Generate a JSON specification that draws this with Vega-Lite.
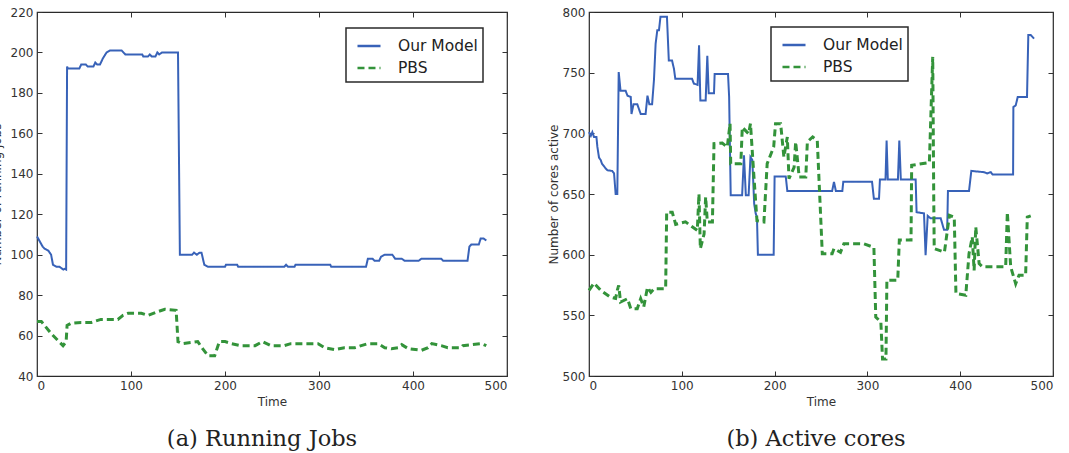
{
  "$schema": "https://vega.github.io/schema/vega-lite/v6.json",
  "padding": {"left": -11, "top": 5, "right": 5, "bottom": 5},
  "background": "white",
  "bounds": "flush",
  "spacing": 82,
  "config": {
    "font": "DejaVu Sans",
    "view": {"stroke": "#2a2a2a", "strokeWidth": 1.2},
    "axis": {
      "grid": false,
      "domain": false,
      "tickSize": -5,
      "tickColor": "#333",
      "tickWidth": 1,
      "labelPadding": 9,
      "labelFont": "DejaVu Sans",
      "labelFontSize": 12,
      "labelColor": "#333",
      "titleFont": "DejaVu Sans",
      "titleFontSize": 12,
      "titleFontWeight": "normal",
      "titleColor": "#333"
    },
    "legend": {
      "orient": "none",
      "title": null,
      "fillColor": "white",
      "strokeColor": "#2a2a2a",
      "strokeWidth": 1.5,
      "padding": 5,
      "symbolOffset": 5,
      "cornerRadius": 0,
      "symbolType": "stroke",
      "symbolSize": 530,
      "symbolStrokeWidth": 2.5,
      "labelFont": "DejaVu Sans",
      "labelFontSize": 15.5,
      "labelColor": "#222",
      "labelOffset": 16,
      "rowPadding": -1
    },
    "title": {
      "orient": "bottom",
      "anchor": "middle",
      "font": "DejaVu Serif",
      "fontSize": 22.5,
      "fontWeight": "normal",
      "color": "#222"
    }
  },
  "datasets": {
    "jobs": [
      {"t": 0, "v": 109, "series": "Our Model"},
      {"t": 6, "v": 104, "series": "Our Model"},
      {"t": 8, "v": 103, "series": "Our Model"},
      {"t": 12, "v": 102, "series": "Our Model"},
      {"t": 15, "v": 100, "series": "Our Model"},
      {"t": 17, "v": 95, "series": "Our Model"},
      {"t": 21, "v": 94, "series": "Our Model"},
      {"t": 24, "v": 94, "series": "Our Model"},
      {"t": 28, "v": 92.6, "series": "Our Model"},
      {"t": 29.5, "v": 93, "series": "Our Model"},
      {"t": 31, "v": 92.6, "series": "Our Model"},
      {"t": 32, "v": 193, "series": "Our Model"},
      {"t": 33, "v": 192, "series": "Our Model"},
      {"t": 45, "v": 192, "series": "Our Model"},
      {"t": 47, "v": 194, "series": "Our Model"},
      {"t": 52, "v": 194, "series": "Our Model"},
      {"t": 54, "v": 193, "series": "Our Model"},
      {"t": 60, "v": 193, "series": "Our Model"},
      {"t": 62, "v": 195, "series": "Our Model"},
      {"t": 64, "v": 194, "series": "Our Model"},
      {"t": 67, "v": 194, "series": "Our Model"},
      {"t": 70, "v": 197, "series": "Our Model"},
      {"t": 74, "v": 200, "series": "Our Model"},
      {"t": 78, "v": 201, "series": "Our Model"},
      {"t": 90, "v": 201, "series": "Our Model"},
      {"t": 94, "v": 199, "series": "Our Model"},
      {"t": 112, "v": 199, "series": "Our Model"},
      {"t": 113, "v": 198, "series": "Our Model"},
      {"t": 118, "v": 198, "series": "Our Model"},
      {"t": 120, "v": 199, "series": "Our Model"},
      {"t": 122, "v": 198, "series": "Our Model"},
      {"t": 126, "v": 198, "series": "Our Model"},
      {"t": 128, "v": 200, "series": "Our Model"},
      {"t": 130, "v": 199, "series": "Our Model"},
      {"t": 133, "v": 200, "series": "Our Model"},
      {"t": 150, "v": 200, "series": "Our Model"},
      {"t": 152, "v": 100, "series": "Our Model"},
      {"t": 165, "v": 100, "series": "Our Model"},
      {"t": 167, "v": 101, "series": "Our Model"},
      {"t": 170, "v": 100, "series": "Our Model"},
      {"t": 173, "v": 101, "series": "Our Model"},
      {"t": 175, "v": 101, "series": "Our Model"},
      {"t": 178, "v": 95, "series": "Our Model"},
      {"t": 182, "v": 94, "series": "Our Model"},
      {"t": 200, "v": 94, "series": "Our Model"},
      {"t": 201, "v": 95, "series": "Our Model"},
      {"t": 213, "v": 95, "series": "Our Model"},
      {"t": 214, "v": 94, "series": "Our Model"},
      {"t": 263, "v": 94, "series": "Our Model"},
      {"t": 265, "v": 95, "series": "Our Model"},
      {"t": 267, "v": 94, "series": "Our Model"},
      {"t": 274, "v": 94, "series": "Our Model"},
      {"t": 275, "v": 95, "series": "Our Model"},
      {"t": 312, "v": 95, "series": "Our Model"},
      {"t": 313, "v": 94, "series": "Our Model"},
      {"t": 350, "v": 94, "series": "Our Model"},
      {"t": 352, "v": 98, "series": "Our Model"},
      {"t": 357, "v": 98, "series": "Our Model"},
      {"t": 359, "v": 97, "series": "Our Model"},
      {"t": 364, "v": 97, "series": "Our Model"},
      {"t": 366, "v": 99, "series": "Our Model"},
      {"t": 370, "v": 100, "series": "Our Model"},
      {"t": 378, "v": 100, "series": "Our Model"},
      {"t": 381, "v": 98, "series": "Our Model"},
      {"t": 388, "v": 98, "series": "Our Model"},
      {"t": 391, "v": 97, "series": "Our Model"},
      {"t": 406, "v": 97, "series": "Our Model"},
      {"t": 409, "v": 98, "series": "Our Model"},
      {"t": 430, "v": 98, "series": "Our Model"},
      {"t": 432, "v": 97, "series": "Our Model"},
      {"t": 458, "v": 97, "series": "Our Model"},
      {"t": 460, "v": 104, "series": "Our Model"},
      {"t": 462, "v": 105, "series": "Our Model"},
      {"t": 470, "v": 105, "series": "Our Model"},
      {"t": 472, "v": 108, "series": "Our Model"},
      {"t": 475, "v": 108, "series": "Our Model"},
      {"t": 478, "v": 107, "series": "Our Model"},
      {"t": 0, "v": 67, "series": "PBS"},
      {"t": 4.6, "v": 67, "series": "PBS"},
      {"t": 15, "v": 61, "series": "PBS"},
      {"t": 27.7, "v": 55, "series": "PBS"},
      {"t": 31, "v": 57, "series": "PBS"},
      {"t": 32, "v": 65, "series": "PBS"},
      {"t": 36, "v": 66, "series": "PBS"},
      {"t": 47, "v": 66.5, "series": "PBS"},
      {"t": 58, "v": 66.5, "series": "PBS"},
      {"t": 68, "v": 68, "series": "PBS"},
      {"t": 86, "v": 68, "series": "PBS"},
      {"t": 91.5, "v": 70, "series": "PBS"},
      {"t": 97, "v": 71, "series": "PBS"},
      {"t": 111, "v": 71, "series": "PBS"},
      {"t": 118, "v": 70, "series": "PBS"},
      {"t": 127, "v": 71.6, "series": "PBS"},
      {"t": 136, "v": 73, "series": "PBS"},
      {"t": 148, "v": 72.5, "series": "PBS"},
      {"t": 150, "v": 57, "series": "PBS"},
      {"t": 155, "v": 56, "series": "PBS"},
      {"t": 171, "v": 57, "series": "PBS"},
      {"t": 177, "v": 53, "series": "PBS"},
      {"t": 182, "v": 50, "series": "PBS"},
      {"t": 189, "v": 50, "series": "PBS"},
      {"t": 194, "v": 57, "series": "PBS"},
      {"t": 200, "v": 57, "series": "PBS"},
      {"t": 207, "v": 56, "series": "PBS"},
      {"t": 217, "v": 55, "series": "PBS"},
      {"t": 232, "v": 55, "series": "PBS"},
      {"t": 240, "v": 57, "series": "PBS"},
      {"t": 249, "v": 55, "series": "PBS"},
      {"t": 263, "v": 55, "series": "PBS"},
      {"t": 270, "v": 56, "series": "PBS"},
      {"t": 299, "v": 56, "series": "PBS"},
      {"t": 306, "v": 54, "series": "PBS"},
      {"t": 317, "v": 53, "series": "PBS"},
      {"t": 327, "v": 54, "series": "PBS"},
      {"t": 338, "v": 54, "series": "PBS"},
      {"t": 352, "v": 56, "series": "PBS"},
      {"t": 363, "v": 56, "series": "PBS"},
      {"t": 370, "v": 54, "series": "PBS"},
      {"t": 377, "v": 53.5, "series": "PBS"},
      {"t": 384, "v": 54, "series": "PBS"},
      {"t": 388, "v": 55.5, "series": "PBS"},
      {"t": 395, "v": 53.5, "series": "PBS"},
      {"t": 409, "v": 52.7, "series": "PBS"},
      {"t": 416, "v": 54, "series": "PBS"},
      {"t": 420, "v": 56, "series": "PBS"},
      {"t": 430, "v": 55, "series": "PBS"},
      {"t": 437, "v": 54, "series": "PBS"},
      {"t": 451, "v": 54, "series": "PBS"},
      {"t": 453, "v": 55, "series": "PBS"},
      {"t": 473, "v": 56, "series": "PBS"},
      {"t": 478, "v": 55, "series": "PBS"}
    ],
    "cores": [
      {"t": 0, "v": 701, "series": "Our Model"},
      {"t": 2, "v": 698, "series": "Our Model"},
      {"t": 3.6, "v": 701, "series": "Our Model"},
      {"t": 5.4, "v": 697, "series": "Our Model"},
      {"t": 8, "v": 697, "series": "Our Model"},
      {"t": 9, "v": 689, "series": "Our Model"},
      {"t": 10.8, "v": 680, "series": "Our Model"},
      {"t": 12.6, "v": 678, "series": "Our Model"},
      {"t": 14, "v": 675, "series": "Our Model"},
      {"t": 18, "v": 671, "series": "Our Model"},
      {"t": 20, "v": 669.5, "series": "Our Model"},
      {"t": 25, "v": 669, "series": "Our Model"},
      {"t": 27, "v": 667, "series": "Our Model"},
      {"t": 28.7, "v": 650, "series": "Our Model"},
      {"t": 30.5, "v": 650, "series": "Our Model"},
      {"t": 32, "v": 750.5, "series": "Our Model"},
      {"t": 34, "v": 735, "series": "Our Model"},
      {"t": 39.5, "v": 735, "series": "Our Model"},
      {"t": 41.5, "v": 731, "series": "Our Model"},
      {"t": 45, "v": 730, "series": "Our Model"},
      {"t": 45.8, "v": 716, "series": "Our Model"},
      {"t": 48, "v": 724, "series": "Our Model"},
      {"t": 52, "v": 724, "series": "Our Model"},
      {"t": 55.7, "v": 716, "series": "Our Model"},
      {"t": 61, "v": 716, "series": "Our Model"},
      {"t": 63, "v": 731, "series": "Our Model"},
      {"t": 65, "v": 724, "series": "Our Model"},
      {"t": 68, "v": 724, "series": "Our Model"},
      {"t": 70, "v": 744, "series": "Our Model"},
      {"t": 71.8, "v": 774, "series": "Our Model"},
      {"t": 73.6, "v": 785, "series": "Our Model"},
      {"t": 75.4, "v": 785, "series": "Our Model"},
      {"t": 77, "v": 796, "series": "Our Model"},
      {"t": 84, "v": 796, "series": "Our Model"},
      {"t": 86, "v": 760, "series": "Our Model"},
      {"t": 89.5, "v": 760, "series": "Our Model"},
      {"t": 91.6, "v": 753, "series": "Our Model"},
      {"t": 93, "v": 745, "series": "Our Model"},
      {"t": 111, "v": 745, "series": "Our Model"},
      {"t": 113, "v": 741, "series": "Our Model"},
      {"t": 117, "v": 740, "series": "Our Model"},
      {"t": 118.6, "v": 772.5, "series": "Our Model"},
      {"t": 120, "v": 727, "series": "Our Model"},
      {"t": 125.7, "v": 727, "series": "Our Model"},
      {"t": 127.5, "v": 764, "series": "Our Model"},
      {"t": 129, "v": 733, "series": "Our Model"},
      {"t": 134.7, "v": 733, "series": "Our Model"},
      {"t": 135.4, "v": 749, "series": "Our Model"},
      {"t": 149.8, "v": 749, "series": "Our Model"},
      {"t": 151, "v": 730, "series": "Our Model"},
      {"t": 152.7, "v": 649, "series": "Our Model"},
      {"t": 165, "v": 649, "series": "Our Model"},
      {"t": 167, "v": 682, "series": "Our Model"},
      {"t": 169, "v": 649, "series": "Our Model"},
      {"t": 172, "v": 649, "series": "Our Model"},
      {"t": 174, "v": 680.5, "series": "Our Model"},
      {"t": 176, "v": 678, "series": "Our Model"},
      {"t": 178, "v": 642, "series": "Our Model"},
      {"t": 179.6, "v": 634, "series": "Our Model"},
      {"t": 181, "v": 631, "series": "Our Model"},
      {"t": 182, "v": 600, "series": "Our Model"},
      {"t": 199, "v": 600, "series": "Our Model"},
      {"t": 200, "v": 664.5, "series": "Our Model"},
      {"t": 212, "v": 664.5, "series": "Our Model"},
      {"t": 213.7, "v": 652.5, "series": "Our Model"},
      {"t": 262, "v": 652.5, "series": "Our Model"},
      {"t": 264, "v": 660, "series": "Our Model"},
      {"t": 266, "v": 652.5, "series": "Our Model"},
      {"t": 273, "v": 652.5, "series": "Our Model"},
      {"t": 274, "v": 660, "series": "Our Model"},
      {"t": 305, "v": 660, "series": "Our Model"},
      {"t": 307, "v": 646, "series": "Our Model"},
      {"t": 312.5, "v": 646, "series": "Our Model"},
      {"t": 313.5, "v": 662, "series": "Our Model"},
      {"t": 319.5, "v": 662, "series": "Our Model"},
      {"t": 320.7, "v": 694, "series": "Our Model"},
      {"t": 322, "v": 662, "series": "Our Model"},
      {"t": 332.9, "v": 662, "series": "Our Model"},
      {"t": 334.4, "v": 694, "series": "Our Model"},
      {"t": 336, "v": 662, "series": "Our Model"},
      {"t": 352, "v": 662, "series": "Our Model"},
      {"t": 353, "v": 635, "series": "Our Model"},
      {"t": 361, "v": 634, "series": "Our Model"},
      {"t": 362.7, "v": 599.5, "series": "Our Model"},
      {"t": 365, "v": 632, "series": "Our Model"},
      {"t": 368, "v": 630, "series": "Our Model"},
      {"t": 379, "v": 630, "series": "Our Model"},
      {"t": 382.5, "v": 620.6, "series": "Our Model"},
      {"t": 386, "v": 620.6, "series": "Our Model"},
      {"t": 386.8, "v": 652.5, "series": "Our Model"},
      {"t": 409.5, "v": 652.5, "series": "Our Model"},
      {"t": 412, "v": 669, "series": "Our Model"},
      {"t": 425.6, "v": 668, "series": "Our Model"},
      {"t": 429, "v": 667, "series": "Our Model"},
      {"t": 433, "v": 668, "series": "Our Model"},
      {"t": 435, "v": 666, "series": "Our Model"},
      {"t": 457, "v": 666, "series": "Our Model"},
      {"t": 457.3, "v": 721.7, "series": "Our Model"},
      {"t": 459.8, "v": 723, "series": "Our Model"},
      {"t": 462, "v": 730, "series": "Our Model"},
      {"t": 472, "v": 730, "series": "Our Model"},
      {"t": 473.4, "v": 781, "series": "Our Model"},
      {"t": 476, "v": 781, "series": "Our Model"},
      {"t": 479.6, "v": 778, "series": "Our Model"},
      {"t": 0, "v": 570.6, "series": "PBS"},
      {"t": 5.4, "v": 576.6, "series": "PBS"},
      {"t": 12.6, "v": 570.6, "series": "PBS"},
      {"t": 23, "v": 565, "series": "PBS"},
      {"t": 28.7, "v": 564, "series": "PBS"},
      {"t": 30.5, "v": 570.6, "series": "PBS"},
      {"t": 32, "v": 574.7, "series": "PBS"},
      {"t": 34, "v": 561, "series": "PBS"},
      {"t": 41.5, "v": 563.7, "series": "PBS"},
      {"t": 45, "v": 555.5, "series": "PBS"},
      {"t": 52, "v": 555.5, "series": "PBS"},
      {"t": 55.7, "v": 563.7, "series": "PBS"},
      {"t": 59, "v": 557, "series": "PBS"},
      {"t": 63, "v": 573, "series": "PBS"},
      {"t": 66.7, "v": 569, "series": "PBS"},
      {"t": 70.4, "v": 572, "series": "PBS"},
      {"t": 82.6, "v": 572, "series": "PBS"},
      {"t": 83.7, "v": 635, "series": "PBS"},
      {"t": 89.7, "v": 635, "series": "PBS"},
      {"t": 93.4, "v": 625, "series": "PBS"},
      {"t": 104, "v": 627, "series": "PBS"},
      {"t": 116.7, "v": 620, "series": "PBS"},
      {"t": 118.5, "v": 650, "series": "PBS"},
      {"t": 120, "v": 605, "series": "PBS"},
      {"t": 124, "v": 617, "series": "PBS"},
      {"t": 125.7, "v": 647.5, "series": "PBS"},
      {"t": 127.5, "v": 627, "series": "PBS"},
      {"t": 133, "v": 627, "series": "PBS"},
      {"t": 134.7, "v": 691.5, "series": "PBS"},
      {"t": 143.6, "v": 692, "series": "PBS"},
      {"t": 149, "v": 688.7, "series": "PBS"},
      {"t": 152, "v": 708, "series": "PBS"},
      {"t": 152.7, "v": 675, "series": "PBS"},
      {"t": 163.6, "v": 675, "series": "PBS"},
      {"t": 165.2, "v": 705, "series": "PBS"},
      {"t": 172, "v": 699.7, "series": "PBS"},
      {"t": 174, "v": 708, "series": "PBS"},
      {"t": 177.5, "v": 667, "series": "PBS"},
      {"t": 181, "v": 628, "series": "PBS"},
      {"t": 188.5, "v": 627, "series": "PBS"},
      {"t": 192, "v": 675, "series": "PBS"},
      {"t": 199, "v": 688.7, "series": "PBS"},
      {"t": 201, "v": 708, "series": "PBS"},
      {"t": 206.5, "v": 708, "series": "PBS"},
      {"t": 210, "v": 680.5, "series": "PBS"},
      {"t": 213.7, "v": 697, "series": "PBS"},
      {"t": 215.5, "v": 662.6, "series": "PBS"},
      {"t": 221, "v": 672, "series": "PBS"},
      {"t": 222.7, "v": 693, "series": "PBS"},
      {"t": 226.5, "v": 664, "series": "PBS"},
      {"t": 233.6, "v": 664, "series": "PBS"},
      {"t": 235.3, "v": 693, "series": "PBS"},
      {"t": 241, "v": 697, "series": "PBS"},
      {"t": 246, "v": 694, "series": "PBS"},
      {"t": 251.4, "v": 600.8, "series": "PBS"},
      {"t": 262, "v": 600.8, "series": "PBS"},
      {"t": 264, "v": 605, "series": "PBS"},
      {"t": 271, "v": 602, "series": "PBS"},
      {"t": 274.7, "v": 609, "series": "PBS"},
      {"t": 296, "v": 609, "series": "PBS"},
      {"t": 307, "v": 606, "series": "PBS"},
      {"t": 309, "v": 548.6, "series": "PBS"},
      {"t": 314.5, "v": 544.5, "series": "PBS"},
      {"t": 316.3, "v": 514, "series": "PBS"},
      {"t": 320, "v": 514, "series": "PBS"},
      {"t": 321, "v": 579, "series": "PBS"},
      {"t": 332.7, "v": 579, "series": "PBS"},
      {"t": 334.4, "v": 612, "series": "PBS"},
      {"t": 347, "v": 612, "series": "PBS"},
      {"t": 347.7, "v": 673.6, "series": "PBS"},
      {"t": 366.8, "v": 676, "series": "PBS"},
      {"t": 370.4, "v": 763, "series": "PBS"},
      {"t": 371.5, "v": 645, "series": "PBS"},
      {"t": 372, "v": 605, "series": "PBS"},
      {"t": 383, "v": 602, "series": "PBS"},
      {"t": 388.4, "v": 632.4, "series": "PBS"},
      {"t": 393.6, "v": 631, "series": "PBS"},
      {"t": 395.4, "v": 568, "series": "PBS"},
      {"t": 406, "v": 566.5, "series": "PBS"},
      {"t": 409.5, "v": 600.8, "series": "PBS"},
      {"t": 413, "v": 614.6, "series": "PBS"},
      {"t": 415, "v": 587, "series": "PBS"},
      {"t": 416.8, "v": 622.8, "series": "PBS"},
      {"t": 420.4, "v": 592.6, "series": "PBS"},
      {"t": 424, "v": 590, "series": "PBS"},
      {"t": 449, "v": 590, "series": "PBS"},
      {"t": 450.8, "v": 635, "series": "PBS"},
      {"t": 454.4, "v": 590, "series": "PBS"},
      {"t": 459.8, "v": 576, "series": "PBS"},
      {"t": 463.4, "v": 583, "series": "PBS"},
      {"t": 470.5, "v": 583, "series": "PBS"},
      {"t": 472.3, "v": 631, "series": "PBS"},
      {"t": 476, "v": 632, "series": "PBS"}
    ]
  },
  "resolve": {
    "scale": {"color": "independent", "strokeDash": "independent"},
    "legend": {"color": "independent", "strokeDash": "independent"}
  },
  "hconcat": [
    {
      "width": 470,
      "height": 364,
      "title": {"text": "(a) Running Jobs", "offset": 21, "dx": -10},
      "data": {"name": "jobs"},
      "resolve": {"axis": {"x": "independent", "y": "independent"}},
      "encoding": {
        "color": {"field": "series", "type": "nominal", "scale": {"domain": ["Our Model", "PBS"], "range": ["#3862b8", "#33933a"]}, "legend": {"legendX": 309, "legendY": 16}},
        "strokeDash": {"field": "series", "type": "nominal", "scale": {"domain": ["Our Model", "PBS"], "range": [[1, 0], [7, 4]]}, "legend": {"legendX": 309, "legendY": 16}}
      },
      "layer": [
        {
          "transform": [{"filter": "datum.series === 'Our Model'"}],
          "mark": {"type": "line", "strokeWidth": 2},
          "encoding": {
            "x": {"field": "t", "type": "quantitative", "scale": {"domain": [0, 500], "nice": false}, "axis": {"orient": "bottom", "title": "Time", "values": [0, 100, 200, 300, 400, 500], "titlePadding": 5}},
            "y": {"field": "v", "type": "quantitative", "scale": {"domain": [40, 220], "nice": false, "zero": false}, "axis": {"orient": "left", "title": "Number of running jobs", "values": [40, 60, 80, 100, 120, 140, 160, 180, 200, 220], "titlePadding": 7}}
          }
        },
        {
          "transform": [{"filter": "datum.series === 'PBS'"}],
          "mark": {"type": "line", "strokeWidth": 3},
          "encoding": {
            "x": {"field": "t", "type": "quantitative", "scale": {"domain": [0, 500], "nice": false}, "axis": {"orient": "top", "title": null, "labels": false, "values": [0, 100, 200, 300, 400, 500]}},
            "y": {"field": "v", "type": "quantitative", "scale": {"domain": [40, 220], "nice": false, "zero": false}, "axis": {"orient": "right", "title": null, "labels": false, "values": [40, 60, 80, 100, 120, 140, 160, 180, 200, 220]}}
          }
        }
      ]
    },
    {
      "width": 464,
      "height": 364,
      "title": {"text": "(b) Active cores", "offset": 21, "dx": -5},
      "data": {"name": "cores"},
      "resolve": {"axis": {"x": "independent", "y": "independent"}},
      "encoding": {
        "color": {"field": "series", "type": "nominal", "scale": {"domain": ["Our Model", "PBS"], "range": ["#3862b8", "#33933a"]}, "legend": {"legendX": 182, "legendY": 15}},
        "strokeDash": {"field": "series", "type": "nominal", "scale": {"domain": ["Our Model", "PBS"], "range": [[1, 0], [7, 4]]}, "legend": {"legendX": 182, "legendY": 15}}
      },
      "layer": [
        {
          "transform": [{"filter": "datum.series === 'Our Model'"}],
          "mark": {"type": "line", "strokeWidth": 2},
          "encoding": {
            "x": {"field": "t", "type": "quantitative", "scale": {"domain": [0, 500], "nice": false}, "axis": {"orient": "bottom", "title": "Time", "values": [0, 100, 200, 300, 400, 500], "titlePadding": 5}},
            "y": {"field": "v", "type": "quantitative", "scale": {"domain": [500, 800], "nice": false, "zero": false}, "axis": {"orient": "left", "title": "Number of cores active", "values": [500, 550, 600, 650, 700, 750, 800], "titlePadding": 2}}
          }
        },
        {
          "transform": [{"filter": "datum.series === 'PBS'"}],
          "mark": {"type": "line", "strokeWidth": 3},
          "encoding": {
            "x": {"field": "t", "type": "quantitative", "scale": {"domain": [0, 500], "nice": false}, "axis": {"orient": "top", "title": null, "labels": false, "values": [0, 100, 200, 300, 400, 500]}},
            "y": {"field": "v", "type": "quantitative", "scale": {"domain": [500, 800], "nice": false, "zero": false}, "axis": {"orient": "right", "title": null, "labels": false, "values": [500, 550, 600, 650, 700, 750, 800]}}
          }
        }
      ]
    }
  ]
}
